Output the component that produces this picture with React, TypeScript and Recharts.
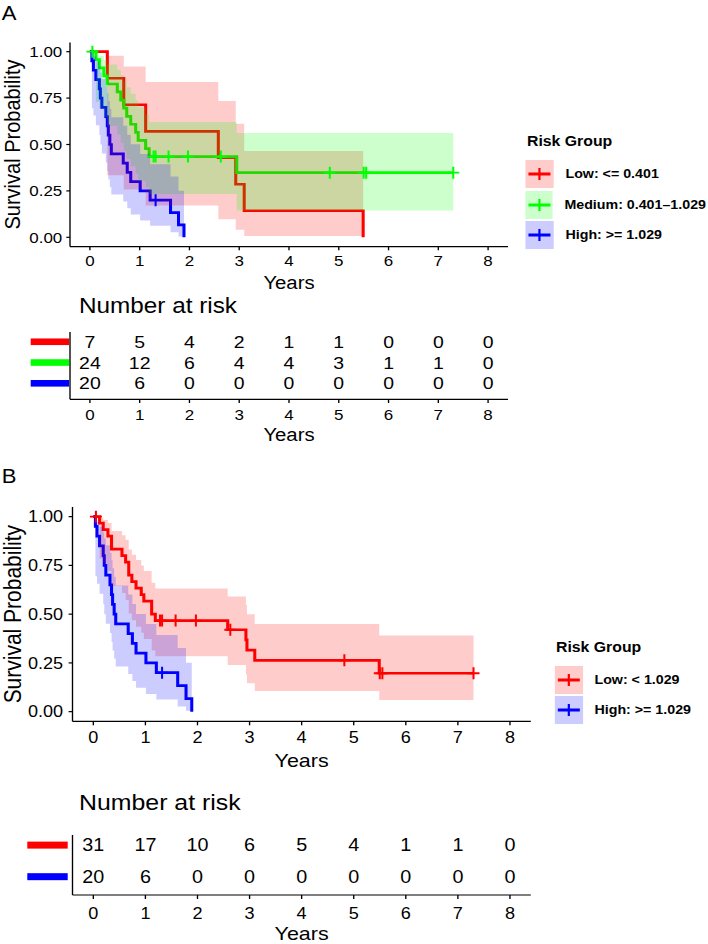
import { ComposedChart, Line, Area, Scatter, XAxis, YAxis, Legend } from "recharts";

// the published figure is stretched sideways, so everything is laid out in
// unstretched units and the page is scaled back with scaleX
const SX = 1.13;
const px = (v: number) => v / SX;
const FONT = '"Liberation Sans", Arial, Helvetica, sans-serif';

const RED = "#ff0000";
const GREEN = "#00ff00";
const BLUE = "#0000ff";

const years = [0, 1, 2, 3, 4, 5, 6, 7, 8];
const survTicks = [0, 0.25, 0.5, 0.75, 1];

// A: Low (<= 0.401)
const lowATime = [0, 0.35, 0.68, 1.12, 2.58, 2.93, 3.1, 5.49];
const lowASurv = [1, 0.857, 0.714, 0.571, 0.429, 0.286, 0.143, 0];
const lowALower = [1, 0.334, 0.258, 0.172, 0.098, 0.041, 0.007, 0.007];
const lowAUpper = [1, 0.978, 0.92, 0.837, 0.734, 0.612, 0.465, 0.465];

// A: Medium (0.401-1.029)
const medATime = [0, 0.12, 0.19, 0.28, 0.35, 0.55, 0.62, 0.68, 0.74, 0.82, 0.92, 0.97, 1.12, 1.19, 2.95, 7.3];
const medASurv = [1, 0.957, 0.913, 0.87, 0.826, 0.783, 0.739, 0.696, 0.652, 0.609, 0.565, 0.522, 0.478, 0.435, 0.348, 0.348];
const medALower = [1, 0.729, 0.695, 0.648, 0.601, 0.554, 0.509, 0.466, 0.423, 0.383, 0.343, 0.305, 0.268, 0.233, 0.144, 0.144];
const medAUpper = [1, 0.994, 0.978, 0.956, 0.931, 0.903, 0.873, 0.842, 0.809, 0.774, 0.738, 0.7, 0.661, 0.621, 0.562, 0.562];
const medACensTime = [0.05, 1.28, 1.32, 1.58, 1.97, 2.63, 4.82, 5.5, 5.55, 7.3];
const medACensSurv = [1, 0.435, 0.435, 0.435, 0.435, 0.435, 0.348, 0.348, 0.348, 0.348];

// High (>= 1.029), same group in A and B
const highTime = [0, 0.04, 0.07, 0.12, 0.19, 0.21, 0.24, 0.32, 0.35, 0.37, 0.4, 0.43, 0.67, 0.75, 0.82, 1.01, 1.21, 1.62, 1.78, 1.89];
const highSurv = [1, 0.95, 0.9, 0.85, 0.8, 0.75, 0.7, 0.65, 0.6, 0.55, 0.5, 0.45, 0.4, 0.35, 0.3, 0.25, 0.2, 0.133, 0.067, 0];
const highLower = [1, 0.695, 0.656, 0.604, 0.551, 0.5, 0.451, 0.403, 0.357, 0.313, 0.271, 0.231, 0.193, 0.157, 0.123, 0.091, 0.062, 0.027, 0.005, 0.005];
const highUpper = [1, 0.993, 0.974, 0.949, 0.92, 0.888, 0.853, 0.815, 0.776, 0.735, 0.692, 0.647, 0.601, 0.552, 0.501, 0.449, 0.393, 0.327, 0.251, 0.251];
const highCensTime = [1.32];
const highCensSurv = [0.2];

// B: Low (< 1.029)
const lowBTime = [0, 0.12, 0.19, 0.28, 0.35, 0.55, 0.62, 0.68, 0.74, 0.82, 0.92, 0.97, 1.12, 1.19, 2.58, 2.93, 2.95, 3.1, 5.49, 7.3];
const lowBSurv = [1, 0.967, 0.933, 0.9, 0.833, 0.8, 0.767, 0.7, 0.667, 0.633, 0.6, 0.567, 0.5, 0.467, 0.42, 0.368, 0.315, 0.263, 0.197, 0.197];
const lowBLower = [1, 0.786, 0.759, 0.721, 0.645, 0.608, 0.572, 0.503, 0.469, 0.436, 0.405, 0.373, 0.313, 0.284, 0.239, 0.19, 0.146, 0.106, 0.06, 0.06];
const lowBUpper = [1, 0.995, 0.983, 0.967, 0.927, 0.905, 0.881, 0.831, 0.805, 0.778, 0.75, 0.721, 0.661, 0.631, 0.591, 0.547, 0.5, 0.45, 0.391, 0.391];
const lowBCensTime = [0.05, 1.28, 1.32, 1.58, 1.97, 2.63, 4.82, 5.5, 5.55, 7.3];
const lowBCensSurv = [1, 0.467, 0.467, 0.467, 0.467, 0.42, 0.263, 0.197, 0.197, 0.197];

// number at risk at each year
const riskALow = [7, 5, 4, 2, 1, 1, 0, 0, 0];
const riskAMed = [24, 12, 6, 4, 4, 3, 1, 1, 0];
const riskAHigh = [20, 6, 0, 0, 0, 0, 0, 0, 0];
const riskBLow = [31, 17, 10, 6, 5, 4, 1, 1, 0];
const riskBHigh = [20, 6, 0, 0, 0, 0, 0, 0, 0];

type Pt = { t: number; s: number; band?: number[] };
type Series = { color: string; curve: Pt[]; cens: Pt[] };
type Key = { color: string; fill: string; label: string };
type Row = { color: string; counts: number[]; y: number };

const km = (t: number[], s: number[], lo: number[], hi: number[]): Pt[] =>
  t.map((v, i) => ({ t: v, s: s[i], band: [lo[i], hi[i]] }));
const marks = (t: number[], s: number[]): Pt[] => t.map((v, i) => ({ t: v, s: s[i] }));

const seriesA: Series[] = [
  { color: RED, curve: km(lowATime, lowASurv, lowALower, lowAUpper), cens: [] },
  { color: GREEN, curve: km(medATime, medASurv, medALower, medAUpper), cens: marks(medACensTime, medACensSurv) },
  { color: BLUE, curve: km(highTime, highSurv, highLower, highUpper), cens: marks(highCensTime, highCensSurv) },
];
const seriesB: Series[] = [
  { color: RED, curve: km(lowBTime, lowBSurv, lowBLower, lowBUpper), cens: marks(lowBCensTime, lowBCensSurv) },
  { color: BLUE, curve: km(highTime, highSurv, highLower, highUpper), cens: marks(highCensTime, highCensSurv) },
];

const keysA: Key[] = [
  { color: RED, fill: "rgba(255,0,0,0.2)", label: "Low: <= 0.401" },
  { color: GREEN, fill: "rgba(0,255,0,0.2)", label: "Medium: 0.401–1.029" },
  { color: BLUE, fill: "rgba(0,0,255,0.2)", label: "High: >= 1.029" },
];
const keysB: Key[] = [
  { color: RED, fill: "rgba(255,0,0,0.2)", label: "Low: < 1.029" },
  { color: BLUE, fill: "rgba(0,0,255,0.2)", label: "High: >= 1.029" },
];

const rowsA: Row[] = [
  { color: RED, counts: riskALow, y: 3 },
  { color: GREEN, counts: riskAMed, y: 2 },
  { color: BLUE, counts: riskAHigh, y: 1 },
];
const rowsB: Row[] = [
  { color: RED, counts: riskBLow, y: 2 },
  { color: BLUE, counts: riskBHigh, y: 1 },
];

// page geometry, in pixels of the reference picture
const geoA = { top: 0, h: 300, l: 70, r: 508, t: 42.4, b: 246.6, tick: 15, tickLen: 3.7, gapX: 5.3, gapY: 4, yTitle: 20, xTitle: 18, yTitleX: 13, xTitleY: 283, legL: 526, legT: 134 };
const geoB = { top: 460, h: 320, l: 72.5, r: 530.8, t: 506.9, b: 721.4, tick: 16, tickLen: 3.9, gapX: 6.2, gapY: 5.5, yTitle: 21, xTitle: 19, yTitleX: 13.5, xTitleY: 760, legL: 555, legT: 639.7 };
const tableA = { top: 320, h: 125, l: 70, r: 508, t: 332, b: 399.3, dom: [0.23, 3.47], tick: 15, num: 17.2, tickLen: 3.7, gapX: 6.6, xTitle: 18, xTitleY: 435, barL: 30.7, barR: 69, barH: 6.6 };
const tableB = { top: 820, h: 124, l: 72.5, r: 530.8, t: 835, b: 895, dom: [0.42, 2.32], tick: 16, num: 17.5, tickLen: 4, gapX: 8.6, xTitle: 19, xTitleY: 933.3, barL: 27.3, barR: 67.7, barH: 7 };

const axisStroke = { stroke: "#000", strokeWidth: 1.2 };

const title = (text: string, x: number, y: number, size: number, vertical = false) => () => (
  <text
    x={x}
    y={y}
    textAnchor="middle"
    dominantBaseline="central"
    fontSize={size}
    fontFamily={FONT}
    fill="#000"
    transform={vertical ? `rotate(-90, ${x}, ${y})` : undefined}
  >
    {text}
  </text>
);

const Cross = (color: string) => (p: any) => (
  <g stroke={color} strokeWidth={1.8}>
    <line x1={p.cx - px(6)} x2={p.cx + px(6)} y1={p.cy} y2={p.cy} />
    <line x1={p.cx} x2={p.cx} y1={p.cy - 6} y2={p.cy + 6} />
  </g>
);

const LegendBlock = ({ keys }: { keys: Key[] }) => (
  <div style={{ fontFamily: FONT, color: "#000", whiteSpace: "nowrap", textAlign: "left" }}>
    <div style={{ fontSize: 14, fontWeight: 700, lineHeight: "14px", marginLeft: px(1), marginBottom: 12 }}>
      Risk Group
    </div>
    {keys.map((k) => (
      <div key={k.label} style={{ display: "flex", alignItems: "center", height: 28, marginBottom: 2.5 }}>
        <svg width={px(28)} height={28} style={{ background: k.fill, display: "block" }}>
          <line x1={px(3)} x2={px(25)} y1={14} y2={14} stroke={k.color} strokeWidth={2.8} />
          <line x1={px(14)} x2={px(14)} y1={8} y2={20} stroke={k.color} strokeWidth={px(2.2)} />
        </svg>
        <span style={{ marginLeft: px(11.5), fontSize: 12.6, fontWeight: 700 }}>{k.label}</span>
      </div>
    ))}
  </div>
);

function KMPlot({ g, series, keys }: { g: typeof geoA; series: Series[]; keys: Key[] }) {
  const tickStyle = { fill: "#000", fontSize: g.tick, fontFamily: FONT };
  return (
    <div style={{ position: "absolute", left: 0, top: g.top }}>
      <ComposedChart
        width={px(708)}
        height={g.h}
        margin={{ top: g.t - g.top, right: px(708 - g.r), bottom: 0, left: 0 }}
      >
        <XAxis
          dataKey="t"
          type="number"
          domain={[-0.4, 8.4]}
          ticks={years}
          interval={0}
          allowDataOverflow
          height={g.top + g.h - g.b}
          tickSize={g.tickLen}
          tickMargin={g.gapX}
          tick={tickStyle}
          axisLine={axisStroke}
          tickLine={axisStroke}
          label={title("Years", px((g.l + g.r) / 2), g.xTitleY - g.top, g.xTitle)}
        />
        <YAxis
          type="number"
          domain={[-0.05, 1.05]}
          ticks={survTicks}
          interval={0}
          allowDataOverflow
          width={px(g.l)}
          tickSize={px(g.tickLen)}
          tickMargin={px(g.gapY)}
          tickFormatter={(v: number) => v.toFixed(2)}
          tick={tickStyle}
          axisLine={axisStroke}
          tickLine={axisStroke}
          label={title("Survival Probability", px(g.yTitleX), (g.t + g.b) / 2 - g.top, g.yTitle, true)}
        />
        {series.map((s, i) => (
          <Line
            key={`line-${i}`}
            data={s.curve}
            dataKey="s"
            type="stepAfter"
            stroke={s.color}
            strokeWidth={2.7}
            dot={false}
            activeDot={false}
            zIndex={50}
            isAnimationActive={false}
          />
        ))}
        {series.map((s, i) => (
          <Area
            key={`band-${i}`}
            data={s.curve}
            dataKey="band"
            type="stepAfter"
            fill={s.color}
            fillOpacity={0.2}
            stroke="none"
            activeDot={false}
            zIndex={100}
            isAnimationActive={false}
          />
        ))}
        {series.map((s, i) => (
          <Scatter
            key={`cens-${i}`}
            data={s.cens}
            dataKey="s"
            shape={Cross(s.color)}
            isAnimationActive={false}
          />
        ))}
        <Legend
          layout="vertical"
          align="center"
          verticalAlign="middle"
          wrapperStyle={{ left: px(g.legL), top: g.legT - g.top, width: px(180) }}
          content={() => <LegendBlock keys={keys} />}
        />
      </ComposedChart>
    </div>
  );
}

function RiskTable({ g, rows }: { g: typeof tableA; rows: Row[] }) {
  const cells = rows.flatMap((row) => years.map((t, i) => ({ t, y: row.y, n: row.counts[i] })));
  const tickStyle = { fill: "#000", fontSize: g.tick, fontFamily: FONT };
  return (
    <div style={{ position: "absolute", left: 0, top: g.top }}>
      <ComposedChart
        width={px(708)}
        height={g.h}
        margin={{ top: g.t - g.top, right: px(708 - g.r), bottom: 0, left: 0 }}
      >
        <XAxis
          dataKey="t"
          type="number"
          domain={[-0.4, 8.4]}
          ticks={years}
          interval={0}
          allowDataOverflow
          height={g.top + g.h - g.b}
          tickSize={g.tickLen}
          tickMargin={g.gapX}
          tick={tickStyle}
          axisLine={axisStroke}
          tickLine={axisStroke}
          label={title("Years", px((g.l + g.r) / 2), g.xTitleY - g.top, g.xTitle)}
        />
        <YAxis
          type="number"
          domain={g.dom}
          ticks={rows.map((r) => r.y)}
          interval={0}
          allowDataOverflow
          width={px(g.l)}
          tickLine={false}
          tickSize={0}
          tickMargin={0}
          axisLine={axisStroke}
          tick={(p: any) => {
            const row = rows.find((r) => r.y === p.payload.value);
            return (
              <rect
                x={px(g.barL)}
                y={p.y - g.barH / 2}
                width={px(g.barR - g.barL)}
                height={g.barH}
                fill={row ? row.color : "none"}
              />
            );
          }}
        />
        <Scatter
          data={cells}
          dataKey="y"
          isAnimationActive={false}
          shape={(p: any) => (
            <text
              x={p.cx}
              y={p.cy}
              textAnchor="middle"
              dominantBaseline="central"
              fontSize={g.num}
              fontFamily={FONT}
              fill="#000"
            >
              {p.payload.n}
            </text>
          )}
        />
      </ComposedChart>
    </div>
  );
}

const Tag = ({ text, x, y, size }: { text: string; x: number; y: number; size: number }) => (
  <div
    style={{
      position: "absolute",
      left: px(x),
      top: y - size / 2,
      fontSize: size,
      lineHeight: `${size}px`,
      whiteSpace: "nowrap",
      color: "#000",
    }}
  >
    {text}
  </div>
);

export default function App() {
  return (
    <div
      style={{
        position: "absolute",
        left: 0,
        top: 0,
        width: px(708),
        height: 944,
        overflow: "hidden",
        background: "#fff",
        fontFamily: FONT,
        transform: `scaleX(${SX})`,
        transformOrigin: "0 0",
      }}
    >
      <KMPlot g={geoA} series={seriesA} keys={keysA} />
      <Tag text="A" x={1.7} y={13.7} size={19.5} />
      <Tag text="Number at risk" x={79} y={307} size={21.5} />
      <RiskTable g={tableA} rows={rowsA} />
      <KMPlot g={geoB} series={seriesB} keys={keysB} />
      <Tag text="B" x={1.7} y={477} size={19.5} />
      <Tag text="Number at risk" x={79} y={802.8} size={22} />
      <RiskTable g={tableB} rows={rowsB} />
    </div>
  );
}
